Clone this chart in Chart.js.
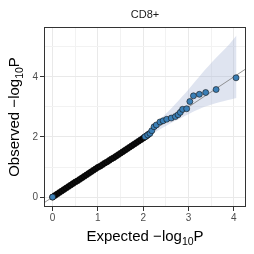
<!DOCTYPE html>
<html>
<head>
<meta charset="utf-8">
<script src="https://cdn.jsdelivr.net/npm/chart.js@4.4.1/dist/chart.umd.min.js"></script>
<style>
  html, body { margin: 0; padding: 0; background: #fff; }
  #wrap { width: 254px; height: 254px; }
</style>
</head>
<body>
<div id="wrap"><canvas id="qqChart" width="254" height="254"></canvas></div>
<script>
// Chart text
const chartTitle = 'CD8+';
const xTitle = ['Expected \u2212log', '10', 'P'];
const yTitle = ['Observed \u2212log', '10', 'P'];

// Bulk of the points (drawn dark because they overlap heavily)
const bulkExpected = [0.00, 0.05, 0.10, 0.15, 0.20, 0.25, 0.30, 0.35, 0.40, 0.45,
    0.50, 0.55, 0.60, 0.65, 0.70, 0.75, 0.80, 0.85, 0.90, 0.95,
    1.00, 1.05, 1.10, 1.15, 1.20, 1.25, 1.30, 1.35, 1.40, 1.45,
    1.50, 1.55, 1.60, 1.65, 1.70, 1.75, 1.80, 1.85, 1.90, 1.95,
    2.00, 2.04, 2.08, 2.12];
const bulkObserved = [0.00, 0.05, 0.10, 0.15, 0.20, 0.25, 0.30, 0.35, 0.40, 0.45,
    0.50, 0.54, 0.59, 0.64, 0.69, 0.74, 0.79, 0.84, 0.89, 0.94,
    0.99, 1.03, 1.08, 1.13, 1.17, 1.22, 1.27, 1.31, 1.36, 1.41,
    1.46, 1.51, 1.56, 1.61, 1.66, 1.71, 1.76, 1.81, 1.86, 1.91,
    1.96, 2.00, 2.04, 2.09];

// Individually visible points (top of the tail, plus the first one)
const tailExpected = [0.00, 2.04, 2.10, 2.15, 2.19, 2.24,
    2.29, 2.37, 2.44, 2.52, 2.62,
    2.71, 2.77, 2.82, 2.87, 2.96, 3.03, 3.11, 3.24, 3.38,
    3.61, 4.05];
const tailObserved = [0.00, 2.01, 2.07, 2.12, 2.21, 2.34,
    2.40, 2.50, 2.54, 2.59, 2.63,
    2.68, 2.74, 2.82, 2.92, 2.94, 3.18, 3.37, 3.42, 3.48,
    3.58, 3.97];

// 95% confidence band
const bandExpected = [0.00, 0.50, 1.00, 1.50, 1.80, 2.10, 2.40, 2.70, 3.00, 3.30, 3.60, 3.85, 4.06];
const bandLower = [0.00, 0.49, 0.97, 1.45, 1.73, 2.01, 2.28, 2.53, 2.76, 2.97, 3.12, 3.22, 3.30];
const bandUpper = [0.00, 0.51, 1.04, 1.57, 1.89, 2.22, 2.62, 3.08, 3.58, 4.12, 4.62, 5.00, 5.38];

// y = x reference line
const refLine = [-0.3, 4.4];

// axis ranges and ticks
const xRange = [-0.19, 4.27];
const yRange = [-0.33, 5.66];
const xMajor = [0, 1, 2, 3, 4];
const yMajor = [0, 2, 4];

function toPoints(xs, ys) {
    return xs.map((x, i) => ({ x: x, y: ys[i] }));
}

function isMajor(list, v) {
    return list.some(m => Math.abs(m - v) < 1e-6);
}

// titles with a real subscript, and the panel border
const decorPlugin = {
    id: 'decor',
    afterDatasetsDraw(chart) {
        const { ctx, chartArea } = chart;
        ctx.save();
        ctx.strokeStyle = '#333333';
        ctx.lineWidth = 1;
        ctx.strokeRect(chartArea.left + 0.5, chartArea.top + 0.5,
            chartArea.right - chartArea.left - 1, chartArea.bottom - chartArea.top - 1);
        ctx.restore();
    },
    afterDraw(chart) {
        const { ctx, chartArea } = chart;
        const cx = (chartArea.left + chartArea.right) / 2;
        const cy = (chartArea.top + chartArea.bottom) / 2;
        ctx.save();
        ctx.fillStyle = '#1a1a1a';
        ctx.font = '11px "Liberation Sans", Arial, sans-serif';
        ctx.textAlign = 'center';
        ctx.textBaseline = 'alphabetic';
        ctx.fillText(chartTitle, cx, 18);

        function subTitle(parts, x, y) {
            const big = '15px "Liberation Sans", Arial, sans-serif';
            const small = '10.5px "Liberation Sans", Arial, sans-serif';
            ctx.font = big;
            const w1 = ctx.measureText(parts[0]).width;
            const w3 = ctx.measureText(parts[2]).width;
            ctx.font = small;
            const w2 = ctx.measureText(parts[1]).width;
            let start = x - (w1 + w2 + w3) / 2;
            ctx.textAlign = 'left';
            ctx.font = big;
            ctx.fillText(parts[0], start, y);
            ctx.font = small;
            ctx.fillText(parts[1], start + w1, y + 3.5);
            ctx.font = big;
            ctx.fillText(parts[2], start + w1 + w2, y);
        }

        ctx.fillStyle = '#000000';
        subTitle(xTitle, cx, 241);
        ctx.translate(19, cy);
        ctx.rotate(-Math.PI / 2);
        subTitle(yTitle, 0, 0);
        ctx.restore();
    }
};

const config = {
    type: 'scatter',
    data: {
        datasets: [{
            label: 'tail',
            data: toPoints(tailExpected, tailObserved),
            backgroundColor: '#3b7fb6',
            borderColor: '#111111',
            borderWidth: 0.6,
            pointRadius: 3,
            order: 0
        }, {
            label: 'bulk',
            data: toPoints(bulkExpected, bulkObserved),
            backgroundColor: '#0d0d0d',
            borderColor: '#000000',
            borderWidth: 0.6,
            pointRadius: 3,
            order: 1
        }, {
            label: 'reference',
            type: 'line',
            data: toPoints(refLine, refLine),
            borderColor: '#7a7a7a',
            borderWidth: 0.8,
            pointRadius: 0,
            order: 2
        }, {
            label: 'upper',
            type: 'line',
            data: toPoints(bandExpected, bandUpper),
            borderWidth: 0,
            borderColor: 'rgba(0,0,0,0)',
            backgroundColor: 'rgba(170,185,215,0.38)',
            pointRadius: 0,
            tension: 0.3,
            fill: '+1',
            order: 3
        }, {
            label: 'lower',
            type: 'line',
            data: toPoints(bandExpected, bandLower),
            borderWidth: 0,
            borderColor: 'rgba(0,0,0,0)',
            pointRadius: 0,
            tension: 0.3,
            fill: false,
            order: 4
        }]
    },
    options: {
        responsive: false,
        animation: false,
        layout: { padding: { top: 27, right: 8, left: 0, bottom: 0 } },
        plugins: {
            legend: { display: false },
            tooltip: { enabled: false },
            title: { display: false }
        },
        scales: {
            x: {
                type: 'linear',
                min: xRange[0],
                max: xRange[1],
                afterFit: s => { s.height = 47; },
                border: { display: false },
                grid: {
                    color: c => isMajor(xMajor, c.tick.value) ? '#e9e9e9' : '#f2f2f2',
                    lineWidth: 1,
                    tickLength: 4,
                    tickWidth: 1,
                    tickColor: c => isMajor(xMajor, c.tick.value) ? '#333333' : 'rgba(0,0,0,0)'
                },
                ticks: {
                    stepSize: 0.5,
                    includeBounds: false,
                    padding: 1,
                    maxRotation: 0,
                    autoSkip: false,
                    color: '#4d4d4d',
                    font: { family: '"Liberation Sans", Arial, sans-serif', size: 10 },
                    callback: v => isMajor(xMajor, v) ? String(Math.round(v)) : ''
                }
            },
            y: {
                type: 'linear',
                min: yRange[0],
                max: yRange[1],
                afterFit: s => { s.width = 44; },
                border: { display: false },
                grid: {
                    color: c => isMajor(yMajor, c.tick.value) ? '#e9e9e9' : '#f2f2f2',
                    lineWidth: 1,
                    tickLength: 4,
                    tickWidth: 1,
                    tickColor: c => isMajor(yMajor, c.tick.value) ? '#333333' : 'rgba(0,0,0,0)'
                },
                ticks: {
                    stepSize: 1,
                    includeBounds: false,
                    padding: 2,
                    autoSkip: false,
                    color: '#4d4d4d',
                    font: { family: '"Liberation Sans", Arial, sans-serif', size: 10 },
                    callback: v => isMajor(yMajor, v) ? String(Math.round(v)) : ''
                }
            }
        }
    },
    plugins: [decorPlugin]
};

const ctx = document.getElementById('qqChart').getContext('2d');
new Chart(ctx, config);
</script>
</body>
</html>
